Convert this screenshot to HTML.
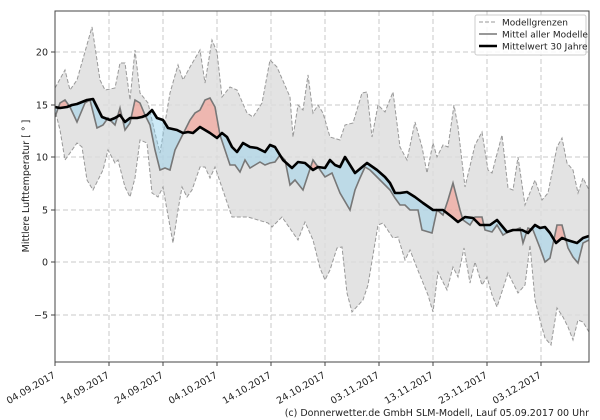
<!DOCTYPE html>
<html><head><meta charset="utf-8"><style>
html,body{margin:0;padding:0;background:#fff;}
svg{display:block;font-family:"DejaVu Sans","Liberation Sans",sans-serif;}
</style></head><body>
<svg width="600" height="420" viewBox="0 0 600 420" xmlns="http://www.w3.org/2000/svg">
<defs>
<clipPath id="plot"><rect x="55" y="11" width="534" height="351"/></clipPath>
<clipPath id="below"><polygon points="55,107 60,108 67,107 72,105 77,104 82,102 87,100 93,99 97,107 102,117 110,120 115,118 120,115 125,122 130,118 137,118 142,117 147,115 152,110 157,118 163,120 168,128 177,130 183,133 188,132 193,133 200,127 205,130 210,133 217,138 222,133 227,137 232,147 237,152 243,143 250,147 257,148 265,152 270,145 275,147 283,160 292,168 298,162 305,163 313,170 318,167 325,168 330,160 335,165 340,167 345,157 355,173 367,163 377,170 385,177 390,183 395,193 400,193 407,192 415,197 423,203 433,210 437,210 443,210 452,217 458,222 465,217 473,218 480,225 490,225 497,220 507,232 513,230 522,230 528,233 535,225 540,228 545,227 550,233 556,243 562,238 567,240 577,243 583,238 589,236 589,400 55,400"/></clipPath>
<clipPath id="above"><polygon points="55,107 60,108 67,107 72,105 77,104 82,102 87,100 93,99 97,107 102,117 110,120 115,118 120,115 125,122 130,118 137,118 142,117 147,115 152,110 157,118 163,120 168,128 177,130 183,133 188,132 193,133 200,127 205,130 210,133 217,138 222,133 227,137 232,147 237,152 243,143 250,147 257,148 265,152 270,145 275,147 283,160 292,168 298,162 305,163 313,170 318,167 325,168 330,160 335,165 340,167 345,157 355,173 367,163 377,170 385,177 390,183 395,193 400,193 407,192 415,197 423,203 433,210 437,210 443,210 452,217 458,222 465,217 473,218 480,225 490,225 497,220 507,232 513,230 522,230 528,233 535,225 540,228 545,227 550,233 556,243 562,238 567,240 577,243 583,238 589,236 589,0 55,0"/></clipPath>
<polygon id="dp" points="55,117 60,103 65,100 70,107 77,122 85,103 90,100 97,128 103,125 108,118 115,125 120,108 125,130 130,123 135,100 140,103 145,115 150,125 155,150 160,170 165,168 170,170 175,150 180,140 185,130 190,120 195,113 200,110 205,100 210,98 215,107 220,135 225,150 230,165 235,165 240,172 245,160 250,168 255,165 260,162 265,165 270,163 275,162 280,155 285,160 290,185 295,180 303,190 313,160 318,167 325,177 332,173 340,193 350,210 355,190 360,178 365,167 370,170 375,175 380,180 385,185 390,190 395,198 400,205 405,205 410,210 418,210 422,230 432,233 437,210 443,215 448,200 453,183 460,210 463,220 470,225 475,217 482,217 485,230 492,232 497,225 503,235 508,232 515,230 520,228 523,243 528,228 533,230 540,248 545,262 550,258 557,225 562,225 568,248 573,257 578,263 583,243 589,240
589,236 583,238 577,243 567,240 562,238 556,243 550,233 545,227 540,228 535,225 528,233 522,230 513,230 507,232 497,220 490,225 480,225 473,218 465,217 458,222 452,217 443,210 437,210 433,210 423,203 415,197 407,192 400,193 395,193 390,183 385,177 377,170 367,163 355,173 345,157 340,167 335,165 330,160 325,168 318,167 313,170 305,163 298,162 292,168 283,160 275,147 270,145 265,152 257,148 250,147 243,143 237,152 232,147 227,137 222,133 217,138 210,133 205,130 200,127 193,133 188,132 183,133 177,130 168,128 163,120 157,118 152,110 147,115 142,117 137,118 130,118 125,122 120,115 115,118 110,120 102,117 97,107 93,99 87,100 82,102 77,104 72,105 67,107 60,108 55,107"/>
</defs>

<g stroke="#c8c8c8" stroke-width="1" stroke-dasharray="5,3">
<line x1="55" y1="52" x2="589" y2="52"/><line x1="55" y1="105" x2="589" y2="105"/><line x1="55" y1="157" x2="589" y2="157"/><line x1="55" y1="210" x2="589" y2="210"/><line x1="55" y1="262" x2="589" y2="262"/><line x1="55" y1="315" x2="589" y2="315"/>
<line x1="109" y1="11" x2="109" y2="362"/><line x1="163" y1="11" x2="163" y2="362"/><line x1="217" y1="11" x2="217" y2="362"/><line x1="271" y1="11" x2="271" y2="362"/><line x1="325" y1="11" x2="325" y2="362"/><line x1="379" y1="11" x2="379" y2="362"/><line x1="433" y1="11" x2="433" y2="362"/><line x1="487" y1="11" x2="487" y2="362"/><line x1="541" y1="11" x2="541" y2="362"/>
</g>

<g clip-path="url(#plot)">
<polygon fill="#dcdcdc" fill-opacity="0.8" points="55,88 65,70 70,90 77,80 92,27 100,80 105,90 115,88 120,63 125,63 130,100 135,50 140,93 148,103 155,133 160,153 170,93 178,65 183,80 190,67 200,50 205,83 212,40 217,52 222,97 230,87 237,90 247,113 253,117 262,103 270,60 277,67 290,97 293,137 298,105 303,110 308,75 313,113 318,105 323,113 330,137 340,140 345,125 353,123 362,93 367,92 372,137 378,105 385,112 393,92 400,147 407,160 415,122 422,147 427,173 433,143 437,157 443,145 448,147 454,105 458,127 465,187 475,145 482,132 488,170 492,173 502,135 508,188 513,190 518,157 525,205 535,180 542,200 548,193 557,147 562,138 567,163 573,170 578,193 583,178 589,190
589,332 583,322 578,320 573,340 568,327 563,317 557,308 551,345 545,338 540,320 535,300 530,245 525,285 518,293 508,273 497,307 492,295 487,277 482,285 475,262 470,283 464,248 458,277 453,267 447,290 438,272 433,312 428,295 417,268 410,250 405,260 398,237 393,238 383,223 378,225 368,285 363,300 352,312 347,293 342,247 337,248 330,270 325,280 320,268 313,240 305,222 298,240 282,217 272,227 268,223 248,217 232,217 215,167 210,178 205,167 200,167 192,190 187,197 182,187 178,210 173,243 167,210 163,187 158,197 152,193 147,143 140,140 135,178 130,197 125,187 118,160 115,163 108,150 103,170 93,190 87,180 82,147 77,143 65,160 60,130 55,110"/>
<g fill="none" stroke="#999" stroke-width="1" stroke-dasharray="4,2">
<polyline points="55,88 65,70 70,90 77,80 92,27 100,80 105,90 115,88 120,63 125,63 130,100 135,50 140,93 148,103 155,133 160,153 170,93 178,65 183,80 190,67 200,50 205,83 212,40 217,52 222,97 230,87 237,90 247,113 253,117 262,103 270,60 277,67 290,97 293,137 298,105 303,110 308,75 313,113 318,105 323,113 330,137 340,140 345,125 353,123 362,93 367,92 372,137 378,105 385,112 393,92 400,147 407,160 415,122 422,147 427,173 433,143 437,157 443,145 448,147 454,105 458,127 465,187 475,145 482,132 488,170 492,173 502,135 508,188 513,190 518,157 525,205 535,180 542,200 548,193 557,147 562,138 567,163 573,170 578,193 583,178 589,190"/>
<polyline points="589,332 583,322 578,320 573,340 568,327 563,317 557,308 551,345 545,338 540,320 535,300 530,245 525,285 518,293 508,273 497,307 492,295 487,277 482,285 475,262 470,283 464,248 458,277 453,267 447,290 438,272 433,312 428,295 417,268 410,250 405,260 398,237 393,238 383,223 378,225 368,285 363,300 352,312 347,293 342,247 337,248 330,270 325,280 320,268 313,240 305,222 298,240 282,217 272,227 268,223 248,217 232,217 215,167 210,178 205,167 200,167 192,190 187,197 182,187 178,210 173,243 167,210 163,187 158,197 152,193 147,143 140,140 135,178 130,197 125,187 118,160 115,163 108,150 103,170 93,190 87,180 82,147 77,143 65,160 60,130 55,110"/>
</g>

<use href="#dp" fill="rgb(135,206,235)" fill-opacity="0.42" clip-path="url(#below)"/>
<use href="#dp" fill="rgb(250,128,114)" fill-opacity="0.45" clip-path="url(#above)"/>

<polyline fill="none" stroke="#777" stroke-width="1.6" points="55,117 60,103 65,100 70,107 77,122 85,103 90,100 97,128 103,125 108,118 115,125 120,108 125,130 130,123 135,100 140,103 145,115 150,125 155,150 160,170 165,168 170,170 175,150 180,140 185,130 190,120 195,113 200,110 205,100 210,98 215,107 220,135 225,150 230,165 235,165 240,172 245,160 250,168 255,165 260,162 265,165 270,163 275,162 280,155 285,160 290,185 295,180 303,190 313,160 318,167 325,177 332,173 340,193 350,210 355,190 360,178 365,167 370,170 375,175 380,180 385,185 390,190 395,198 400,205 405,205 410,210 418,210 422,230 432,233 437,210 443,215 448,200 453,183 460,210 463,220 470,225 475,217 482,217 485,230 492,232 497,225 503,235 508,232 515,230 520,228 523,243 528,228 533,230 540,248 545,262 550,258 557,225 562,225 568,248 573,257 578,263 583,243 589,240"/>
<polyline fill="none" stroke="#000" stroke-width="2.6" stroke-linejoin="round" points="55,107 60,108 67,107 72,105 77,104 82,102 87,100 93,99 97,107 102,117 110,120 115,118 120,115 125,122 130,118 137,118 142,117 147,115 152,110 157,118 163,120 168,128 177,130 183,133 188,132 193,133 200,127 205,130 210,133 217,138 222,133 227,137 232,147 237,152 243,143 250,147 257,148 265,152 270,145 275,147 283,160 292,168 298,162 305,163 313,170 318,167 325,168 330,160 335,165 340,167 345,157 355,173 367,163 377,170 385,177 390,183 395,193 400,193 407,192 415,197 423,203 433,210 437,210 443,210 452,217 458,222 465,217 473,218 480,225 490,225 497,220 507,232 513,230 522,230 528,233 535,225 540,228 545,227 550,233 556,243 562,238 567,240 577,243 583,238 589,236"/>
</g>

<rect x="55" y="11" width="534" height="351" fill="none" stroke="#444" stroke-width="1"/>
<g stroke="#444" stroke-width="1">
<line x1="51" y1="52" x2="55" y2="52"/><line x1="51" y1="105" x2="55" y2="105"/><line x1="51" y1="157" x2="55" y2="157"/><line x1="51" y1="210" x2="55" y2="210"/><line x1="51" y1="262" x2="55" y2="262"/><line x1="51" y1="315" x2="55" y2="315"/>
<line x1="55" y1="362" x2="55" y2="366"/><line x1="109" y1="362" x2="109" y2="366"/><line x1="163" y1="362" x2="163" y2="366"/><line x1="217" y1="362" x2="217" y2="366"/><line x1="271" y1="362" x2="271" y2="366"/><line x1="325" y1="362" x2="325" y2="366"/><line x1="379" y1="362" x2="379" y2="366"/><line x1="433" y1="362" x2="433" y2="366"/><line x1="487" y1="362" x2="487" y2="366"/><line x1="541" y1="362" x2="541" y2="366"/>
</g>
<g font-size="9.5" fill="#222" text-anchor="end">
<text x="48" y="55.5">20</text><text x="48" y="108.5">15</text><text x="48" y="160.5">10</text><text x="48" y="213.5">5</text><text x="48" y="265.5">0</text><text x="48" y="318.5">−5</text>
</g>
<g font-size="9.5" fill="#222" text-anchor="end">
<text transform="translate(56,377) rotate(-30)">04.09.2017</text>
<text transform="translate(110,377) rotate(-30)">14.09.2017</text>
<text transform="translate(164,377) rotate(-30)">24.09.2017</text>
<text transform="translate(218,377) rotate(-30)">04.10.2017</text>
<text transform="translate(272,377) rotate(-30)">14.10.2017</text>
<text transform="translate(326,377) rotate(-30)">24.10.2017</text>
<text transform="translate(380,377) rotate(-30)">03.11.2017</text>
<text transform="translate(434,377) rotate(-30)">13.11.2017</text>
<text transform="translate(488,377) rotate(-30)">23.11.2017</text>
<text transform="translate(542,377) rotate(-30)">03.12.2017</text>
</g>
<text transform="translate(29,186) rotate(-90)" font-size="9.5" fill="#222" text-anchor="middle">Mittlere Lufttemperatur [ ° ]</text>
<text x="589" y="416" font-size="9.5" fill="#222" text-anchor="end">(c) Donnerwetter.de GmbH SLM-Modell, Lauf 05.09.2017 00 Uhr</text>

<rect x="475" y="15" width="111" height="40" fill="#fff" fill-opacity="0.85" stroke="#ccc" stroke-width="1" rx="2"/>
<line x1="479" y1="22" x2="497" y2="22" stroke="#999" stroke-width="1" stroke-dasharray="4,2"/>
<line x1="479" y1="34" x2="497" y2="34" stroke="#777" stroke-width="1.6"/>
<line x1="479" y1="46" x2="497" y2="46" stroke="#000" stroke-width="2.6"/>
<g font-size="9" fill="#222">
<text x="502" y="25.5">Modellgrenzen</text>
<text x="502" y="37.5">Mittel aller Modelle</text>
<text x="502" y="49.5">Mittelwert 30 Jahre</text>
</g>
</svg>
</body></html>
